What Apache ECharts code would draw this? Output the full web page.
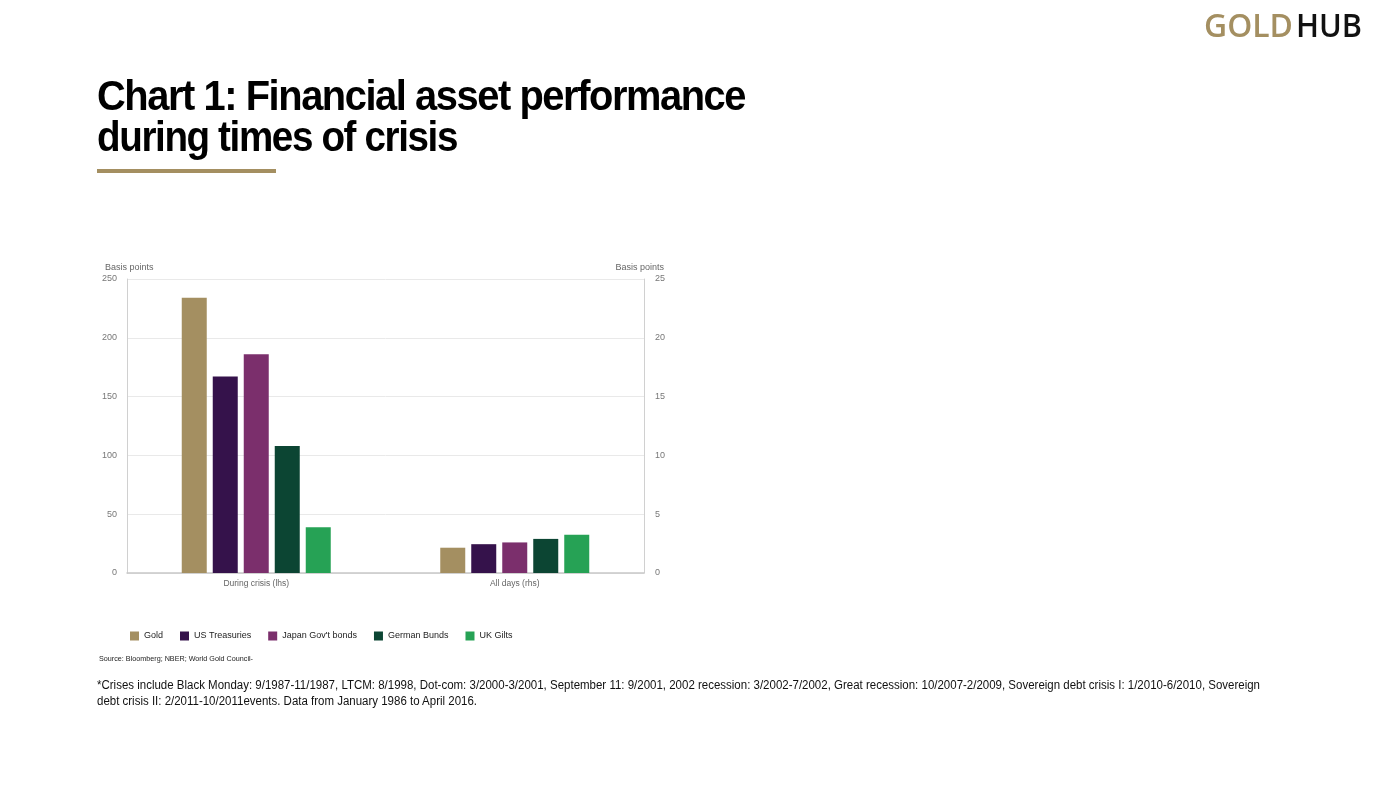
<!DOCTYPE html>
<html>
<head>
<meta charset="utf-8">
<script src="https://cdn.jsdelivr.net/npm/echarts@6/dist/echarts.min.js"></script>
<style>
html,body{margin:0;padding:0;background:#fff;width:1384px;height:794px;overflow:hidden;font-family:"Liberation Sans",Arial,sans-serif;}
#chart{position:absolute;left:0;top:0;width:1384px;height:794px;}
.fit{position:absolute;white-space:nowrap;transform-origin:0 0;}
.logo{font-family:"Open Sans",Lato,sans-serif;font-weight:600;font-size:32px;line-height:32px;}
.title{font-weight:700;font-size:42px;line-height:42px;letter-spacing:-1.5px;color:#000;}
.rule{position:absolute;left:97px;top:169px;width:179px;height:4px;background:#a48f61;}
.note{font-size:12px;line-height:16px;color:#111;}
.src{font-size:7.5px;line-height:9px;color:#222;}
</style>
</head>
<body>
<div id="chart"></div>
<div class="fit logo" style="left:1204px;top:8.6px;color:#a48f61" data-w="89">GOLD</div>
<div class="fit logo" style="left:1296px;top:8.6px;color:#111" data-w="66">HUB</div>
<div class="fit title" style="left:97px;top:74.5px" data-w="648">Chart 1: Financial asset performance</div>
<div class="fit title" style="left:97px;top:115.5px" data-w="360">during times of crisis</div>
<div class="rule"></div>
<div class="fit src" style="left:99px;top:654px" data-w="154">Source: Bloomberg; NBER; World Gold Council-</div>
<div class="fit note" style="left:97px;top:677px" data-w="1163">*Crises include Black Monday: 9/1987-11/1987, LTCM: 8/1998, Dot-com: 3/2000-3/2001, September 11: 9/2001, 2002 recession: 3/2002-7/2002, Great recession: 10/2007-2/2009, Sovereign debt crisis I: 1/2010-6/2010, Sovereign</div>
<div class="fit note" style="left:97px;top:693px" data-w="380">debt crisis II: 2/2011-10/2011events. Data from January 1986 to April 2016.</div>
<script>
// ---- data ----
const categories = ['During crisis (lhs)', 'All days (rhs)'];
const assets = ['Gold', 'US Treasuries', "Japan Gov't bonds", 'German Bunds', 'UK Gilts'];
const crisisValues = [234, 167, 186, 108, 39];      // lhs, basis points
const allDaysValues = [2.15, 2.45, 2.6, 2.9, 3.25]; // rhs, basis points
const lhsAxis = { min: 0, max: 250, interval: 50 };
const rhsAxis = { min: 0, max: 25, interval: 5 };
const colors = ['#a48f61', '#35124b', '#7b2f6c', '#0c4533', '#26a255'];

// fit text widths
document.querySelectorAll('.fit').forEach(function (el) {
  const target = parseFloat(el.dataset.w);
  const w = el.getBoundingClientRect().width;
  if (w > 0) el.style.transform = 'scaleX(' + (target / w) + ')';
});

const chart = echarts.init(document.getElementById('chart'), null, { renderer: 'canvas' });
const series = [];
assets.forEach(function (name, i) {
  series.push({
    type: 'bar', name: name, xAxisIndex: 0, yAxisIndex: 0,
    data: [crisisValues[i], '-'],
    barWidth: 25, barGap: '24%',
    itemStyle: { color: colors[i] }
  });
});
assets.forEach(function (name, i) {
  series.push({
    type: 'bar', name: name, xAxisIndex: 1, yAxisIndex: 1,
    data: ['-', allDaysValues[i]],
    barWidth: 25, barGap: '24%',
    itemStyle: { color: colors[i] }
  });
});
const axisLabel = { color: '#777', fontSize: 9 };
chart.setOption({
  animation: false,
  textStyle: { fontFamily: '"Liberation Sans", Arial, sans-serif' },
  grid: { left: 127, right: 740, top: 279, bottom: 221 },
  legend: {
    data: assets.map(function (n) { return { name: n, icon: 'rect' }; }),
    left: 130, top: 631.5, padding: 0, itemWidth: 9, itemHeight: 9, itemGap: 17,
    textStyle: { fontSize: 9, color: '#222' }, selectedMode: false
  },
  xAxis: [
    { type: 'category', data: categories, axisTick: { show: false },
      axisLine: { lineStyle: { color: '#c8c8c8', width: 1.5 } },
      axisLabel: { color: '#666', fontSize: 8.5, margin: 6 } },
    { type: 'category', data: categories, show: false }
  ],
  yAxis: [
    { type: 'value', min: lhsAxis.min, max: lhsAxis.max, interval: lhsAxis.interval, position: 'left',
      axisLine: { show: true, lineStyle: { color: '#d0d0d0' } }, axisTick: { show: false },
      axisLabel: Object.assign({ margin: 10 }, axisLabel),
      splitLine: { lineStyle: { color: '#e9e9e9' } } },
    { type: 'value', min: rhsAxis.min, max: rhsAxis.max, interval: rhsAxis.interval, position: 'right',
      axisLine: { show: true, lineStyle: { color: '#d0d0d0' } }, axisTick: { show: false },
      axisLabel: Object.assign({ margin: 11 }, axisLabel),
      splitLine: { show: false } }
  ],
  graphic: [
    { type: 'text', left: 105, top: 263.5, style: { text: 'Basis points', fontSize: 9, fill: '#666', fontFamily: '"Liberation Sans", Arial, sans-serif' } },
    { type: 'text', right: 720, top: 263.5, style: { text: 'Basis points', fontSize: 9, fill: '#666', fontFamily: '"Liberation Sans", Arial, sans-serif' } }
  ],
  series: series
});
</script>
</body>
</html>
